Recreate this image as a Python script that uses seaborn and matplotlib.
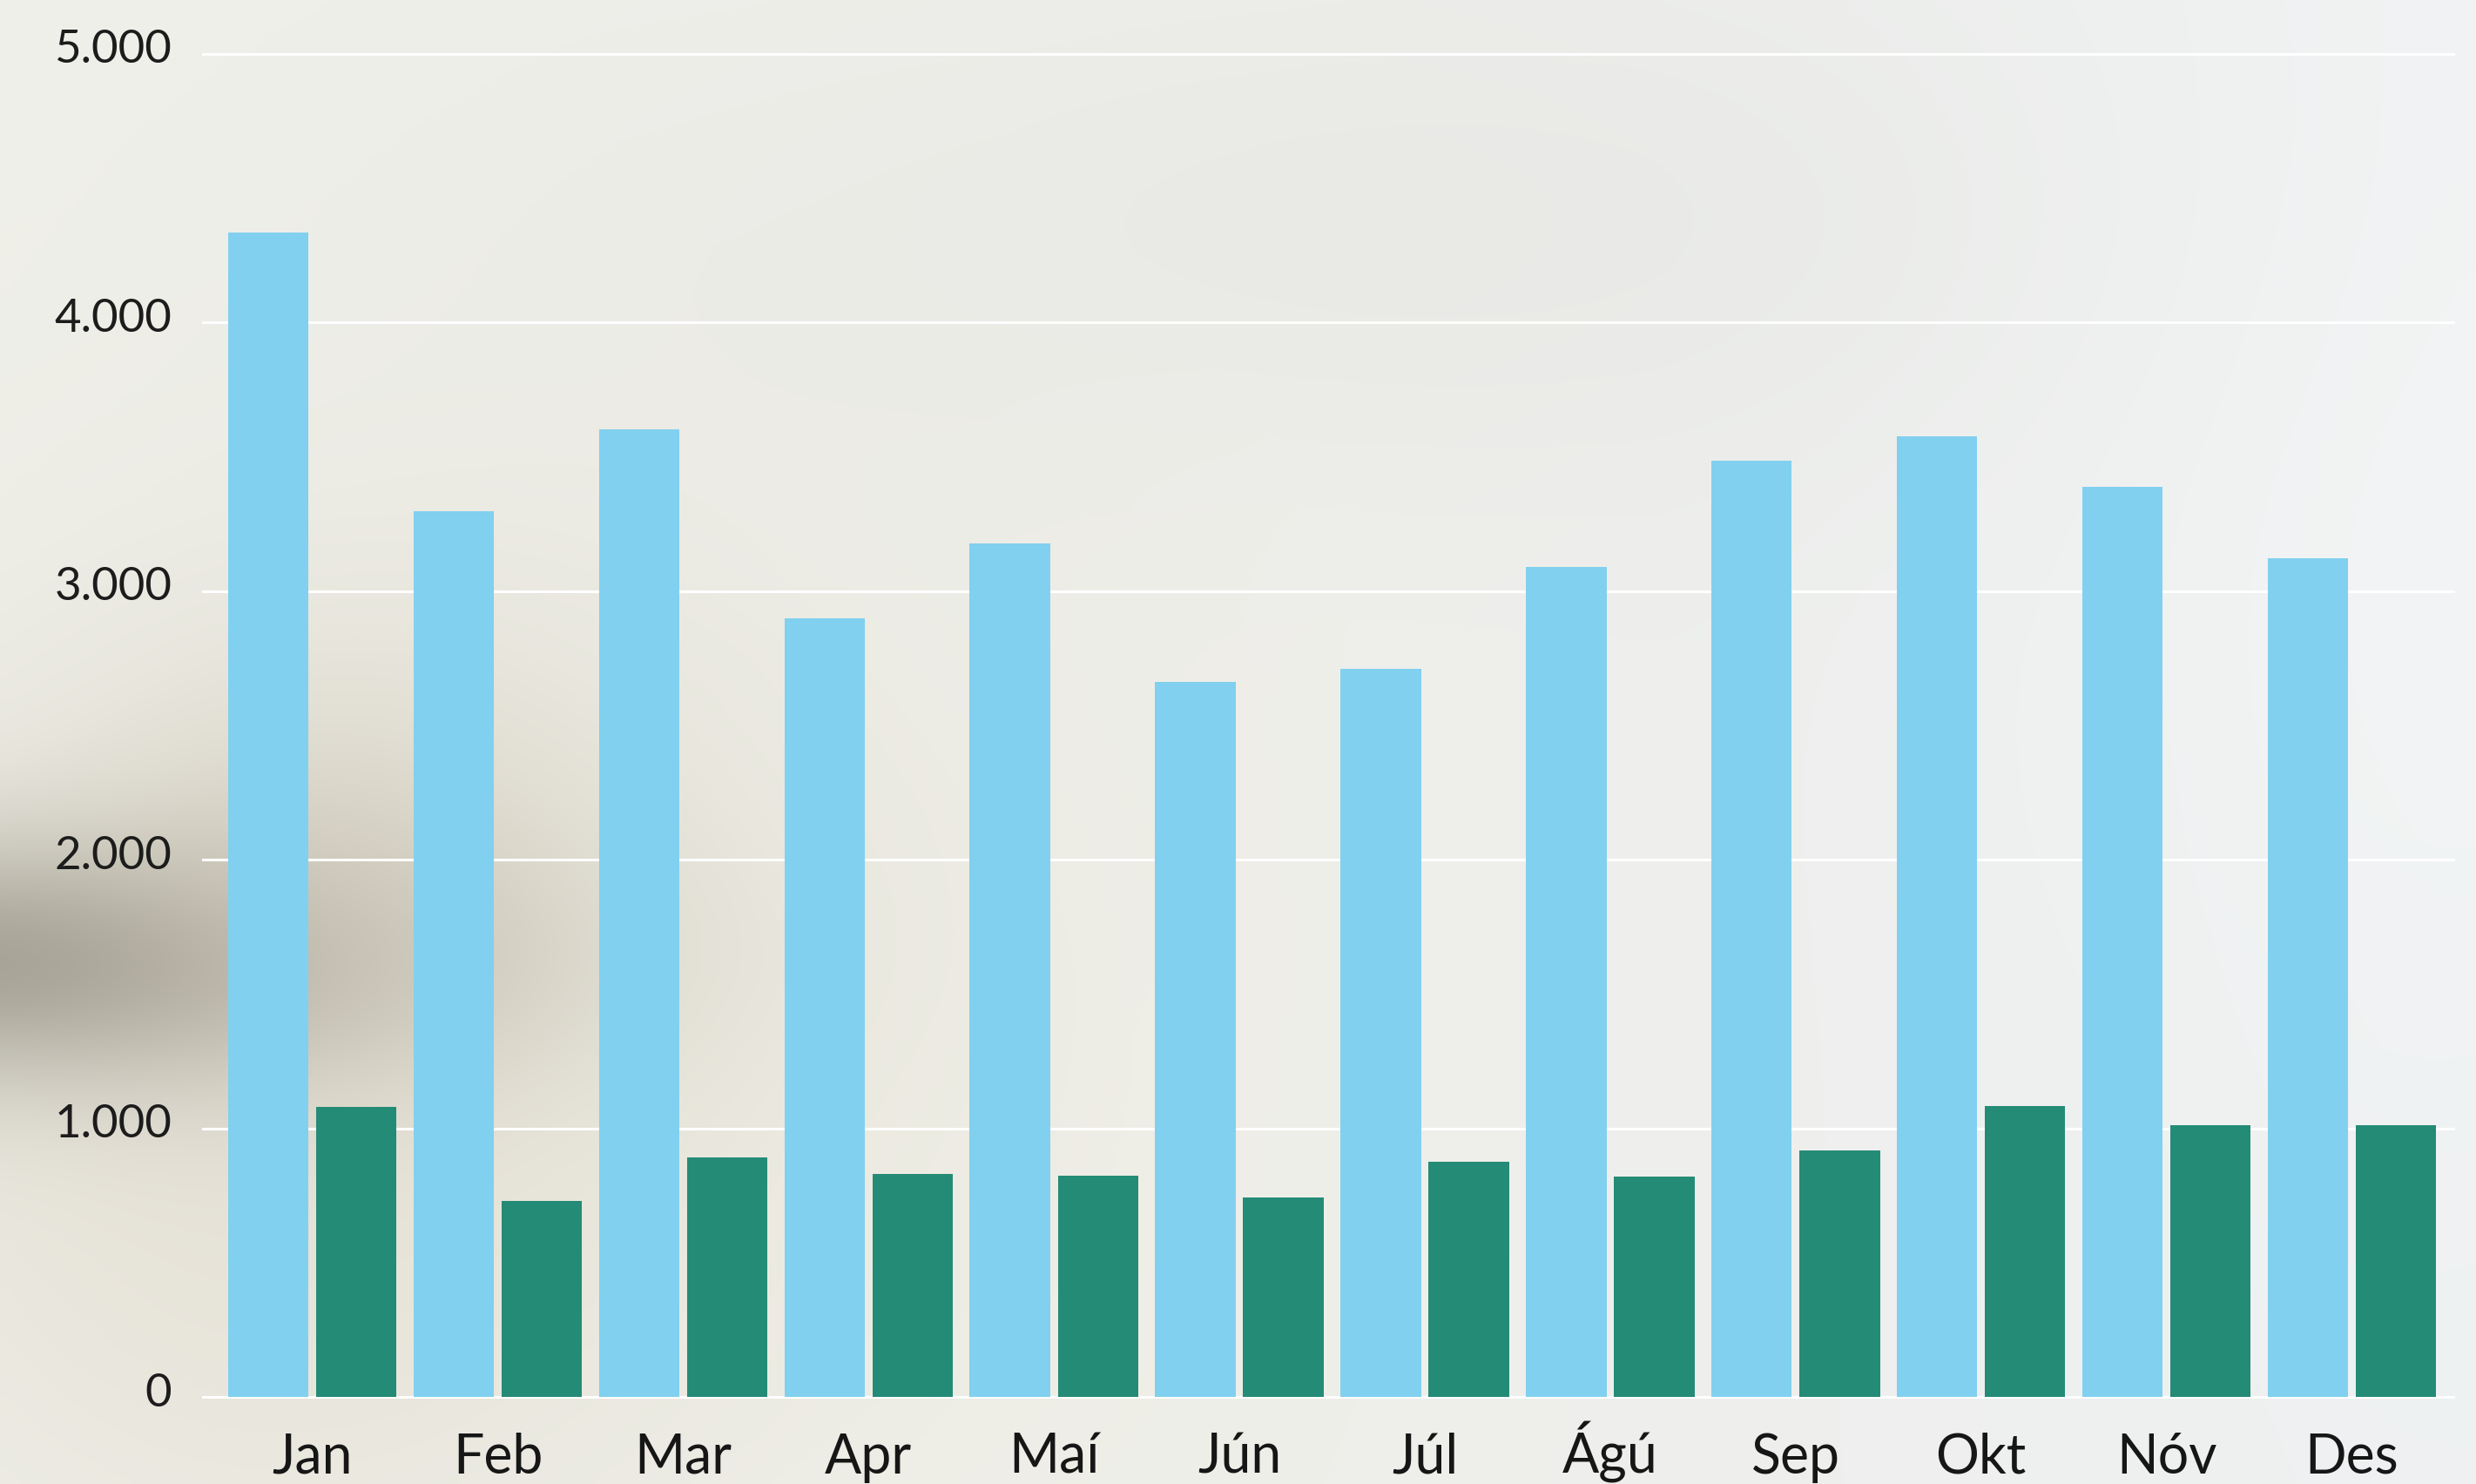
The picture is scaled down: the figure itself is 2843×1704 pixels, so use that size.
import numpy as np
import pandas as pd
import matplotlib
matplotlib.use("Agg")
import matplotlib.pyplot as plt
from matplotlib.transforms import ScaledTranslation
import seaborn as sns

# ---- data ----
months = ["Jan", "Feb", "Mar", "Apr", "Maí", "Jún", "Júl", "Ágú", "Sep", "Okt", "Nóv", "Des"]
series_a = [4335, 3298, 3602, 2899, 3178, 2662, 2711, 3090, 3486, 3577, 3388, 3123]
series_b = [1081, 731, 893, 829, 824, 741, 876, 819, 919, 1084, 1013, 1013]
series_names = ["A", "B"]
yticks = [0, 1000, 2000, 3000, 4000, 5000]
ytick_labels = ["0", "1.000", "2.000", "3.000", "4.000", "5.000"]

df = pd.DataFrame({
    "month": months * 2,
    "value": series_a + series_b,
    "series": [series_names[0]] * len(months) + [series_names[1]] * len(months),
})

sns.set_theme(style="white")
plt.rcParams["font.family"] = ["Lato", "DejaVu Sans"]

W, H = 2843, 1704
fig = plt.figure(figsize=(W / 100, H / 100), dpi=100)

# ---- soft photographic-like background ----
bg = fig.add_axes([0, 0, 1, 1], zorder=-10)
gy, gx = np.mgrid[0:H:8, 0:W:8].astype(float)
t = gx / W
img = np.zeros(gx.shape + (3,))
left = np.array([240, 240, 234]) / 255
mid = np.array([239, 239, 235]) / 255
right = np.array([237, 240, 241]) / 255
for c in range(3):
    img[..., c] = np.where(t < 0.5, left[c] + (mid[c] - left[c]) * t / 0.5,
                           mid[c] + (right[c] - mid[c]) * (t - 0.5) / 0.5)

def blob(cx, cy, sx, sy, color, a):
    global img
    w = a * np.exp(-(((gx - cx) / sx) ** 2 + ((gy - cy) / sy) ** 2) / 2)
    col = np.array(color) / 255
    img = img * (1 - w[..., None]) + col * w[..., None]

blob(1600, 250, 700, 220, (228, 229, 225), 0.5)
blob(500, 1150, 450, 380, (220, 215, 199), 0.55)
blob(250, 1400, 300, 300, (228, 222, 210), 0.4)
blob(0, 1100, 360, 100, (150, 146, 133), 0.8)
blob(380, 1000, 200, 150, (200, 193, 177), 0.4)
blob(2843, 500, 350, 700, (247, 248, 249), 0.5)
blob(1100, 1350, 380, 380, (241, 239, 228), 0.35)
bg.imshow(img, aspect="auto", extent=[0, 1, 0, 1], interpolation="bilinear")
bg.axis("off")

# ---- main axes ----
ax = fig.add_axes([232 / W, 97.5 / H, 2587 / W, 1547 / H])
ax.set_facecolor("none")
sns.barplot(data=df, x="month", y="value", hue="series", order=months,
            palette=["#81D0EF", "#248B76"], saturation=1, width=0.95, gap=0.086,
            errorbar=None, legend=False, ax=ax, zorder=3, linewidth=0,
            edgecolor="none")

ax.set_xlim(-0.595, 11.557)
ax.set_ylim(-8, 5008)
ax.set_yticks(yticks)
ax.set_yticklabels(ytick_labels)
ax.set_xlabel("")
ax.set_ylabel("")
for s in ax.spines.values():
    s.set_visible(False)
ax.grid(axis="y", color="white", linewidth=2.2)
ax.grid(axis="x", visible=False)
ax.set_axisbelow(True)

ax.tick_params(axis="x", length=0, pad=61.5, labelsize=45, labelcolor="#161616")
ax.tick_params(axis="y", length=0, pad=25, labelsize=38, labelcolor="#1c1c1c")

for lbl in ax.get_xticklabels():
    lbl.set_va("baseline")
off = ScaledTranslation(0, -0.105, fig.dpi_scale_trans)
for lbl in ax.get_yticklabels():
    lbl.set_va("baseline")
    lbl.set_transform(lbl.get_transform() + off)

fig.savefig("out.png", dpi=100)
